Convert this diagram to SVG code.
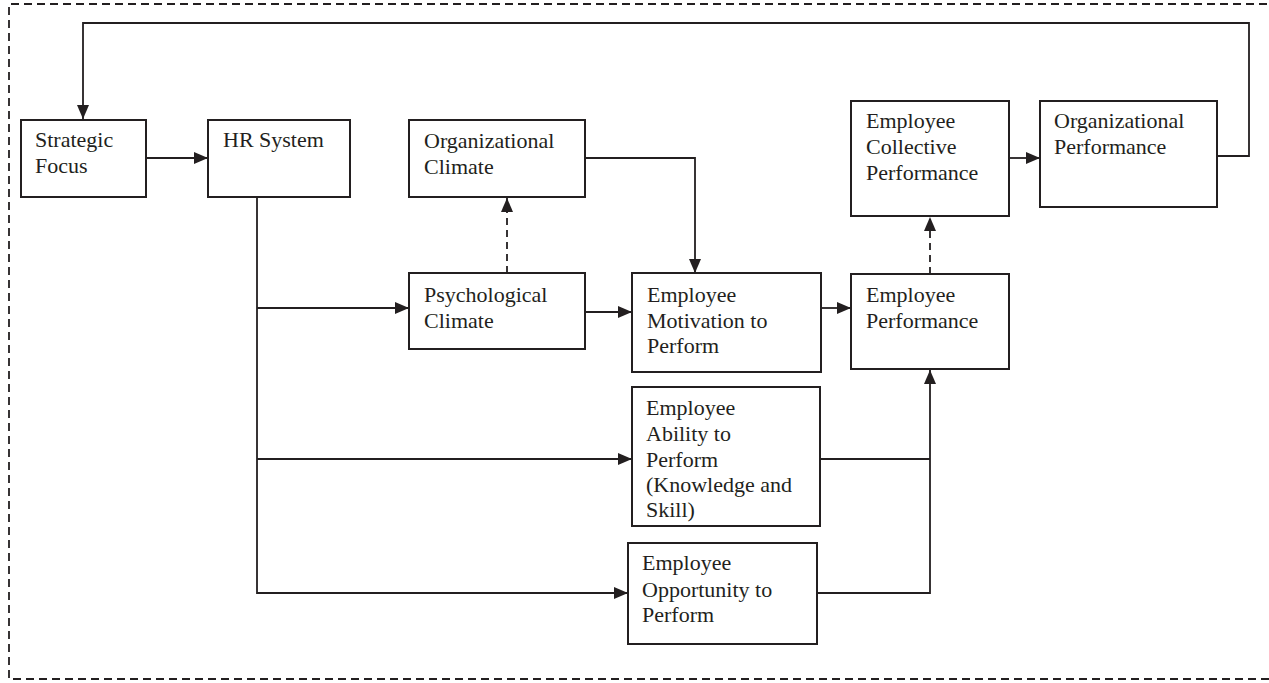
<svg xmlns="http://www.w3.org/2000/svg" width="1269" height="683" viewBox="0 0 1269 683">
<style>
.box{fill:#fff;stroke:#231f20;stroke-width:2}
.t{font-family:"Liberation Serif","Times New Roman",serif;font-size:22px;fill:#231f20}
.c{fill:none;stroke:#231f20;stroke-width:1.8}
.d{stroke-dasharray:7 5}
.frame{fill:none;stroke:#231f20;stroke-width:1.8;stroke-dasharray:8 5}
</style>
<defs>
<marker id="a" viewBox="0 0 14 12" refX="14" refY="6" markerWidth="14" markerHeight="12" markerUnits="userSpaceOnUse" orient="auto">
<path d="M0,0 L14,6 L0,12 Z" fill="#231f20"/>
</marker>
</defs>
<rect width="1269" height="683" fill="#fff"/>
<path class="frame" d="M1280,4 H9 V679 H1280"/>
<g id="connectors">
<path class="c" d="M1217,156 H1249 V23 H83 V119" marker-end="url(#a)"/>
<path class="c" d="M146,158 H208" marker-end="url(#a)"/>
<path class="c" d="M257,197 V593 H628" marker-end="url(#a)"/>
<path class="c" d="M257,308 H409" marker-end="url(#a)"/>
<path class="c" d="M257,459 H632" marker-end="url(#a)"/>
<path class="c d" d="M507,273 V198" marker-end="url(#a)"/>
<path class="c" d="M585,158 H695 V273" marker-end="url(#a)"/>
<path class="c" d="M585,312 H632" marker-end="url(#a)"/>
<path class="c" d="M821,308 H851" marker-end="url(#a)"/>
<path class="c d" d="M930,274 V217" marker-end="url(#a)"/>
<path class="c" d="M1009,158 H1040" marker-end="url(#a)"/>
<path class="c" d="M820,459 H930"/>
<path class="c" d="M817,593 H930 V370" marker-end="url(#a)"/>
</g>
<g id="strategic-focus">
<rect class="box" x="21" y="120" width="125" height="77"/>
<text class="t" x="35" y="147">Strategic</text>
<text class="t" x="35" y="173">Focus</text>
</g>
<g id="hr-system">
<rect class="box" x="208" y="120" width="142" height="77"/>
<text class="t" x="223" y="147">HR System</text>
</g>
<g id="organizational-climate">
<rect class="box" x="409" y="120" width="176" height="77"/>
<text class="t" x="424" y="148">Organizational</text>
<text class="t" x="424" y="174">Climate</text>
</g>
<g id="psychological-climate">
<rect class="box" x="409" y="273" width="176" height="76"/>
<text class="t" x="424" y="302">Psychological</text>
<text class="t" x="424" y="328">Climate</text>
</g>
<g id="employee-motivation">
<rect class="box" x="632" y="273" width="189" height="99"/>
<text class="t" x="647" y="302">Employee</text>
<text class="t" x="647" y="328">Motivation to</text>
<text class="t" x="647" y="353">Perform</text>
</g>
<g id="employee-ability">
<rect class="box" x="632" y="387" width="188" height="139"/>
<text class="t" x="646" y="415">Employee</text>
<text class="t" x="646" y="441">Ability to</text>
<text class="t" x="646" y="467">Perform</text>
<text class="t" x="646" y="492">(Knowledge and</text>
<text class="t" x="646" y="517">Skill)</text>
</g>
<g id="employee-opportunity">
<rect class="box" x="628" y="543" width="189" height="101"/>
<text class="t" x="642" y="570">Employee</text>
<text class="t" x="642" y="597">Opportunity to</text>
<text class="t" x="642" y="622">Perform</text>
</g>
<g id="employee-performance">
<rect class="box" x="851" y="274" width="158" height="95"/>
<text class="t" x="866" y="302">Employee</text>
<text class="t" x="866" y="328">Performance</text>
</g>
<g id="employee-collective-performance">
<rect class="box" x="851" y="101" width="158" height="115"/>
<text class="t" x="866" y="128">Employee</text>
<text class="t" x="866" y="154">Collective</text>
<text class="t" x="866" y="180">Performance</text>
</g>
<g id="organizational-performance">
<rect class="box" x="1040" y="101" width="177" height="106"/>
<text class="t" x="1054" y="128">Organizational</text>
<text class="t" x="1054" y="154">Performance</text>
</g>
</svg>
